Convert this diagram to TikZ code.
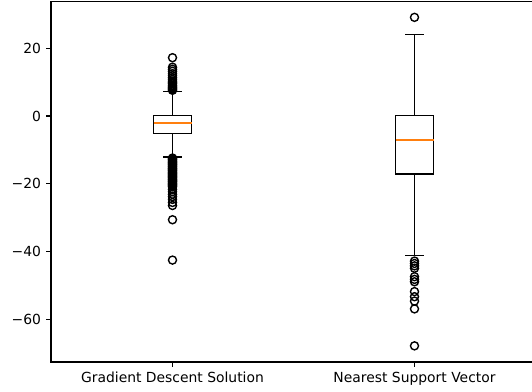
\documentclass[tikz,border=0pt]{standalone}
\usepackage{fontspec}
\setmainfont{DejaVu Sans}
\definecolor{mplorange}{HTML}{FF7F0E}

\begin{document}
\begin{tikzpicture}[x=0.72pt, y=2.4408pt, font=\fontsize{10}{12}\selectfont,
    boxline/.style={black, line width=1pt},
    medianline/.style={mplorange, line width=1pt},
    flier/.style={black, line width=1pt},
    spine/.style={black, line width=0.8pt},
    tickmark/.style={black, line width=0.8pt}]
    \useasboundingbox (0,34.22) rectangle (532,-81.12);
    % axes frame (right side is cut off)
    \draw[spine] (532,33.8) -- (51,33.8) -- (51,-72.57) -- (532,-72.57);
    % y ticks
    \foreach \v/\t [count=\i] in {20/20, 0/0, -20/−20, -40/−40, -60/−60} {
        \draw[tickmark] (51,\v) -- (46.1,\v);
        \node[anchor=east, inner sep=0] (ytick\i) at (41.3,\v) {\t};
    }
    % x ticks
    \draw[tickmark] (172.5,-72.57) -- (172.5,-74.0);
    \draw[tickmark] (414.5,-72.57) -- (414.5,-74.0);
    \node[anchor=north, inner sep=0] (gdlabel) at (172.5,-75.43) {Gradient Descent Solution};
    \node[anchor=north, inner sep=0] (nsvlabel) at (414.5,-75.43) {Nearest Support Vector};
    % gradient descent box
    \draw[boxline] (172.5,0.1) -- (172.5,7.2);
    \draw[boxline] (172.5,-5.1) -- (172.5,-12.1);
    \draw[boxline] (163,7.2) -- (182,7.2);
    \draw[boxline] (163,-12.1) -- (182,-12.1);
    \draw[boxline] (153.5,-5.1) rectangle (191.5,0.1);
    \draw[medianline] (153.5,-2.1) -- (191.5,-2.1);
    \foreach \v in {7.6,7.9,8.2,8.5,8.8,9.1,9.5,9.9,10.3,10.8,11.3,11.9,12.5,13.2,13.8,14.4,17.2}
        \draw[flier] (172.5,\v) circle[radius=2.9pt];
    \foreach \v in {-12.4,-12.65,...,-21.0}
        \draw[flier] (172.5,\v) circle[radius=2.9pt];
    \foreach \v in {-21.6,-22.3,-23.1,-23.8,-24.6,-25.5,-26.4,-30.6,-42.5}
        \draw[flier] (172.5,\v) circle[radius=2.9pt];
    % nearest support vector box
    \draw[boxline] (414.5,0.2) -- (414.5,24.1);
    \draw[boxline] (414.5,-17.1) -- (414.5,-41.1);
    \draw[boxline] (405,24.1) -- (424,24.1);
    \draw[boxline] (405,-41.1) -- (424,-41.1);
    \draw[boxline] (395.5,-17.1) rectangle (433.5,0.2);
    \draw[medianline] (395.5,-7.1) -- (433.5,-7.1);
    \foreach \v in {29.1,-42.8,-43.5,-44.2,-44.9,-47.4,-48.2,-48.9,-51.8,-53.3,-54.6,-56.9,-67.8}
        \draw[flier] (414.5,\v) circle[radius=2.9pt];
\end{tikzpicture}
\end{document}
